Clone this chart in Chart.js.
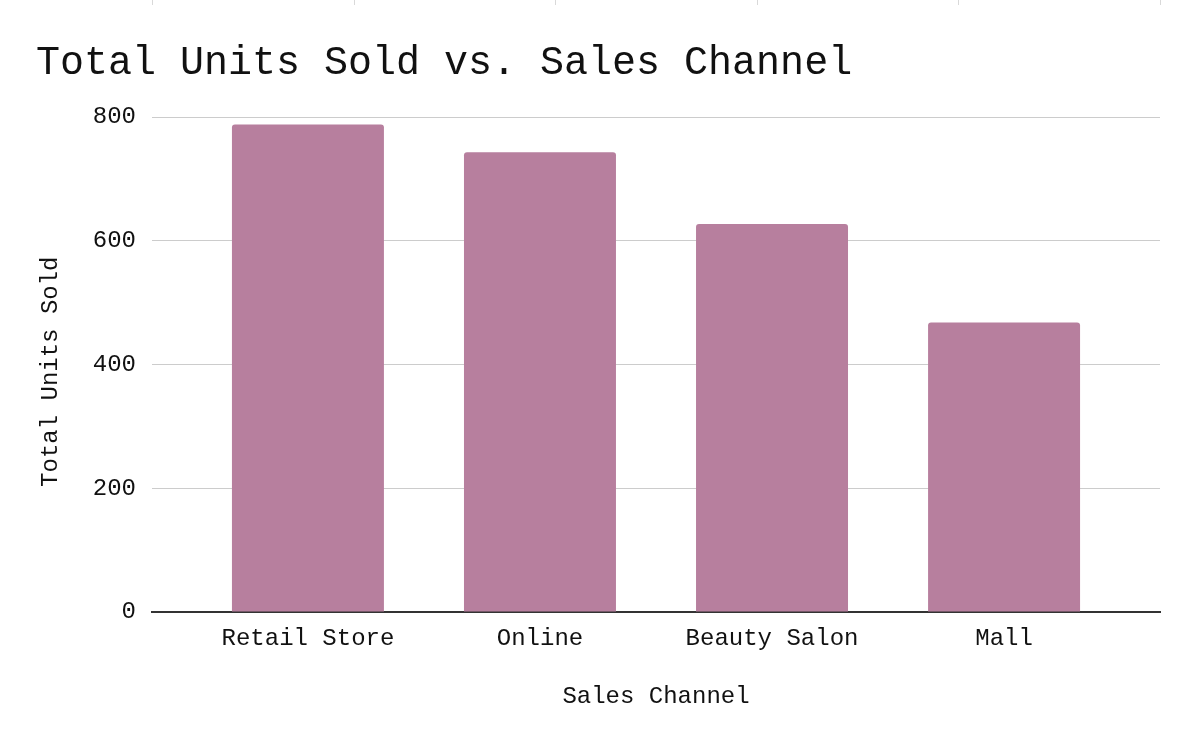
<!DOCTYPE html>
<html lang="en">
<head>
<meta charset="UTF-8">
<title>Total Units Sold vs. Sales Channel</title>
<script src="https://cdn.jsdelivr.net/npm/chart.js@4.4.1/dist/chart.umd.min.js"></script>
<style>
  html, body { margin: 0; padding: 0; background: #fff; }
  .chart-box { position: relative; width: 1196px; height: 746px; }
</style>
</head>
<body>
<div class="chart-box">
  <canvas id="salesChart" width="1196" height="746"></canvas>
</div>
<script>
// data
const channels = ['Retail Store', 'Online', 'Beauty Salon', 'Mall'];
const unitsSold = [788, 743, 627, 468];
const yTicks = [0, 200, 400, 600, 800];

const monoFont = '"Liberation Mono", "Courier New", monospace';
const barColor = '#b77f9e';

// the categories sit a bit in from both ends of the plot, so the x axis is a
// linear one over the category index with some slack each side
const edgeSlack = 0.672;

// the little grey marks along the top edge of the picture
const topMarks = {
  id: 'topMarks',
  afterDraw(chart) {
    const { ctx, chartArea } = chart;
    const step = (chartArea.right - chartArea.left) / 5;
    ctx.save();
    ctx.strokeStyle = '#d9d9d9';
    ctx.lineWidth = 1;
    for (let i = 0; i <= 5; i++) {
      const x = Math.round(chartArea.left + i * step) + 0.5;
      ctx.beginPath();
      ctx.moveTo(x, 0);
      ctx.lineTo(x, 5);
      ctx.stroke();
    }
    ctx.restore();
  }
};

const config = {
  type: 'bar',
  data: {
    datasets: [{
      label: 'Total Units Sold',
      data: channels.map((c, i) => ({ x: i, y: unitsSold[i] })),
      backgroundColor: barColor,
      borderWidth: 0,
      borderRadius: { topLeft: 3, topRight: 3 },
      borderSkipped: 'start',
      categoryPercentage: 1,
      barPercentage: 0.655
    }]
  },
  options: {
    responsive: false,
    animation: false,
    layout: { padding: { left: 36, right: 36, top: 0, bottom: 0 } },
    plugins: {
      legend: { display: false },
      tooltip: { enabled: false },
      title: {
        display: true,
        text: 'Total Units Sold vs. Sales Channel',
        align: 'start',
        color: '#111',
        font: { family: monoFont, size: 40, weight: 'normal' },
        padding: { top: 39, bottom: 30 }
      }
    },
    scales: {
      x: {
        type: 'linear',
        offset: false,
        z: 1,
        min: -edgeSlack,
        max: channels.length - 1 + edgeSlack,
        afterBuildTicks(scale) { scale.ticks = channels.map((c, i) => ({ value: i })); },
        grid: { display: false, offset: false },
        border: { display: true, color: '#333', width: 2 },
        ticks: {
          color: '#111',
          padding: 4,
          maxRotation: 0,
          font: { family: monoFont, size: 24 },
          callback: (v) => channels[v]
        },
        title: {
          display: true,
          text: 'Sales Channel',
          color: '#111',
          font: { family: monoFont, size: 24 },
          padding: { top: 0, bottom: 35 }
        },
        afterFit(scale) { scale.height = 134; }
      },
      y: {
        min: 0,
        max: 800,
        afterBuildTicks(scale) { scale.ticks = yTicks.map(v => ({ value: v })); },
        grid: { color: '#cccccc', lineWidth: 1, drawTicks: false },
        border: { display: false },
        ticks: {
          color: '#111',
          padding: 16,
          font: { family: monoFont, size: 24 }
        },
        title: {
          display: true,
          text: 'Total Units Sold ',
          color: '#111',
          font: { family: monoFont, size: 24 },
          padding: 0
        },
        afterFit(scale) { scale.width = 116; }
      }
    }
  },
  plugins: [topMarks]
};

const ctx = document.getElementById('salesChart').getContext('2d');
const salesChart = new Chart(ctx, config);
</script>
</body>
</html>
